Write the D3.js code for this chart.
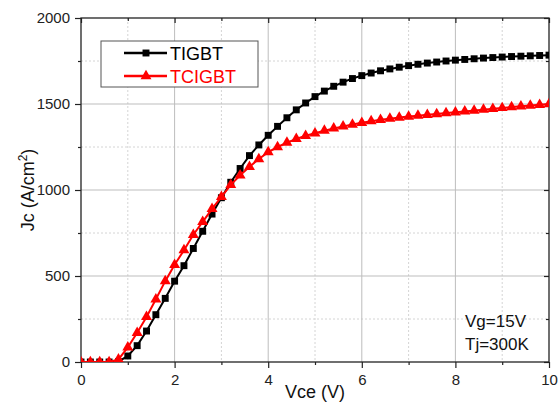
<!DOCTYPE html>
<html lang="en">
    <head>
        <meta charset="utf-8">
        <title>Jc-Vce</title>
        <script src='https://cdn.jsdelivr.net/npm/d3@7/dist/d3.min.js'></script>
        <style>
            body { margin: 0; background: #fff; }
            text { font-family: 'Liberation Sans', Arial, sans-serif; }
        </style>
    </head>
    <body>
        <svg width='559' height='407'></svg>
        <script>
            // values
            var vce = [0, 0.2, 0.4, 0.6, 0.8, 1.0, 1.2, 1.4, 1.6, 1.8,
                       2.0, 2.2, 2.4, 2.6, 2.8, 3.0, 3.2, 3.4, 3.6, 3.8,
                       4.0, 4.2, 4.4, 4.6, 4.8, 5.0, 5.2, 5.4, 5.6, 5.8,
                       6.0, 6.2, 6.4, 6.6, 6.8, 7.0, 7.2, 7.4, 7.6, 7.8,
                       8.0, 8.2, 8.4, 8.6, 8.8, 9.0, 9.2, 9.4, 9.6, 9.8, 10];
            var tigbt = [0, 0, 0, 0, 2, 35, 95, 180, 275, 370,
                         470, 560, 660, 760, 860, 955, 1045, 1125, 1200, 1262,
                         1318, 1370, 1420, 1466, 1506, 1543, 1575, 1603, 1627, 1648,
                         1665, 1680, 1693, 1704, 1714, 1723, 1731, 1738, 1744, 1750,
                         1755, 1759, 1763, 1767, 1770, 1773, 1776, 1778, 1780, 1782, 1784];
            var tcigbt = [0, 0, 0, 0, 15, 85, 170, 262, 365, 470,
                          565, 650, 740, 815, 890, 960, 1030, 1085, 1135, 1180,
                          1220, 1250, 1275, 1297, 1315, 1330, 1345, 1358, 1370, 1381,
                          1391, 1400, 1408, 1415, 1421, 1427, 1432, 1437, 1442, 1447,
                          1452, 1457, 1462, 1467, 1472, 1477, 1482, 1487, 1491, 1495, 1500];
            var xTicks = [0, 2, 4, 6, 8, 10];
            var xMinor = [1, 3, 5, 7, 9];
            var yTicks = [0, 500, 1000, 1500, 2000];
            var yMinor = [250, 750, 1250, 1750];
            var seriesNames = ['TIGBT', 'TCIGBT'];
            var seriesColors = ['#000000', '#ff0000'];
            var notes = ['Vg=15V', 'Tj=300K'];

            var svg = d3.select('svg');
            var pL = 81, pR = 549, pT = 18, pB = 362;

            var x = d3.scaleLinear().domain([0, 10]).range([pL, pR]);
            var y = d3.scaleLinear().domain([0, 2000]).range([pB, pT]);

            // grid
            svg.selectAll('line.gmx').data(xMinor).enter().append('line')
                .attr('x1', d => x(d)).attr('x2', d => x(d)).attr('y1', pT).attr('y2', pB)
                .style('stroke', '#d4d4d4').style('stroke-dasharray', '2,2');
            svg.selectAll('line.gmy').data(yMinor).enter().append('line')
                .attr('y1', d => y(d)).attr('y2', d => y(d)).attr('x1', pL).attr('x2', pR)
                .style('stroke', '#d4d4d4').style('stroke-dasharray', '2,2');
            svg.selectAll('line.gx').data(xTicks.slice(1, -1)).enter().append('line')
                .attr('x1', d => x(d)).attr('x2', d => x(d)).attr('y1', pT).attr('y2', pB)
                .style('stroke', '#bdbdbd');
            svg.selectAll('line.gy').data(yTicks.slice(1, -1)).enter().append('line')
                .attr('y1', d => y(d)).attr('y2', d => y(d)).attr('x1', pL).attr('x2', pR)
                .style('stroke', '#bdbdbd');

            // axes
            var fmt = d3.format('d');
            svg.append('g').attr('transform', 'translate(0,' + pB + ')')
                .call(d3.axisBottom(x).tickValues(xTicks).tickFormat(fmt).tickSize(6).tickPadding(6).tickSizeOuter(0));
            svg.append('g').attr('transform', 'translate(0,' + pB + ')')
                .call(d3.axisBottom(x).tickValues(xMinor).tickSize(3).tickFormat('').tickSizeOuter(0));
            svg.append('g').attr('transform', 'translate(' + pL + ',0)')
                .call(d3.axisLeft(y).tickValues(yTicks).tickFormat(fmt).tickSize(6).tickPadding(5).tickSizeOuter(0));
            svg.append('g').attr('transform', 'translate(' + pL + ',0)')
                .call(d3.axisLeft(y).tickValues(yMinor).tickSize(3).tickFormat('').tickSizeOuter(0));
            svg.append('g').attr('transform', 'translate(0,' + pT + ')')
                .call(d3.axisBottom(x).tickValues(xTicks).tickSize(5).tickFormat('').tickSizeOuter(0));
            svg.append('g').attr('transform', 'translate(0,' + pT + ')')
                .call(d3.axisBottom(x).tickValues(xMinor).tickSize(3).tickFormat('').tickSizeOuter(0));
            svg.append('g').attr('transform', 'translate(' + pR + ',0)')
                .call(d3.axisLeft(y).tickValues(yTicks).tickSize(5).tickFormat('').tickSizeOuter(0));
            svg.append('g').attr('transform', 'translate(' + pR + ',0)')
                .call(d3.axisLeft(y).tickValues(yMinor).tickSize(3).tickFormat('').tickSizeOuter(0));
            svg.selectAll('.domain').remove();
            svg.selectAll('.tick line').style('stroke', '#222').style('stroke-width', 1.2);
            svg.selectAll('.tick text').style('font-size', '15px')
                .style('font-family', "'Liberation Sans', Arial, sans-serif").attr('fill', '#222');

            svg.append('rect').attr('x', pL).attr('y', pT)
                .attr('width', pR - pL).attr('height', pB - pT)
                .style('fill', 'none').style('stroke', '#222').style('stroke-width', 1.3);

            // curves
            svg.append('defs').append('clipPath').attr('id', 'plot')
                .append('rect').attr('x', pL).attr('y', pT).attr('width', pR - pL).attr('height', pB - pT);
            var plot = svg.append('g').attr('clip-path', 'url(#plot)');

            var allSeries = [tigbt, tcigbt];
            var symbols = [d3.symbolSquare, d3.symbolTriangle];
            var symSizes = [48, 52];
            var line = d3.line().x((d, i) => x(vce[i])).y(d => y(d));

            allSeries.forEach((vals, s) => {
                plot.append('path').datum(vals).attr('d', line)
                    .style('fill', 'none').style('stroke', seriesColors[s]).style('stroke-width', 2);
                plot.selectAll('path.m' + s).data(vals).enter().append('path')
                    .attr('class', 'm' + s)
                    .attr('d', d3.symbol().type(symbols[s]).size(symSizes[s]))
                    .attr('transform', (d, i) => 'translate(' + x(vce[i]) + ',' + y(d) + ')')
                    .style('fill', seriesColors[s]);
            });

            // legend
            var lg = svg.append('g');
            lg.append('rect').attr('x', 101).attr('y', 41).attr('width', 157).attr('height', 46)
                .style('fill', '#fff').style('stroke', '#555').style('stroke-width', 1);
            seriesNames.forEach((n, s) => {
                var ly0 = 53 + s * 23;
                lg.append('line').attr('x1', 124).attr('x2', 167).attr('y1', ly0).attr('y2', ly0)
                    .style('stroke', seriesColors[s]).style('stroke-width', 2.5);
                lg.append('path').attr('d', d3.symbol().type(symbols[s]).size(symSizes[s]))
                    .attr('transform', 'translate(146,' + ly0 + ')').style('fill', seriesColors[s]);
                lg.append('text').attr('x', 170).attr('y', ly0 + 7).text(n)
                    .style('font-size', '18px').attr('fill', seriesColors[s]);
            });

            // notes
            svg.selectAll('text.note').data(notes).enter().append('text')
                .attr('class', 'note').attr('x', 465).attr('y', (d, i) => 327 + i * 23)
                .text(d => d).style('font-size', '17px').attr('fill', '#111');

            // axis titles
            svg.append('text').attr('x', (pL + pR) / 2).attr('y', 398)
                .attr('text-anchor', 'middle').style('font-size', '18px').attr('fill', '#111')
                .text('Vce (V)');
            var yt = svg.append('text').attr('transform', 'translate(34,' + ((pT + pB) / 2) + ') rotate(-90)')
                .attr('text-anchor', 'middle').style('font-size', '18px').attr('fill', '#111');
            yt.append('tspan').text('Jc (A/cm');
            yt.append('tspan').attr('dy', -7).style('font-size', '12px').text('2');
            yt.append('tspan').attr('dy', 7).text(')');
        </script>
    </body>
</html>
